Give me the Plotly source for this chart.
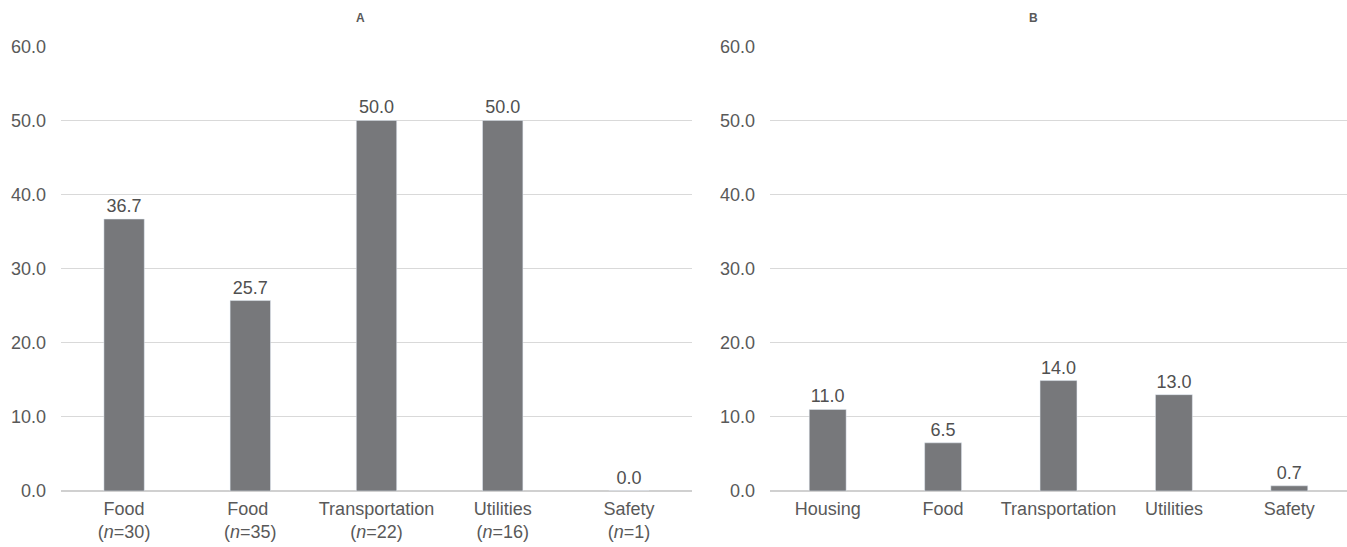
import plotly.graph_objects as go

# Panel A
cats_a = ["Food<br>(<i>n</i>=30)", "Food <br>(<i>n</i>=35)", "Transportation<br>(<i>n</i>=22)",
          "Utilities<br>(<i>n</i>=16)", "Safety<br>(<i>n</i>=1)"]
vals_a = [36.7, 25.7, 50.0, 50.0, 0.0]
labels_a = ["36.7", "25.7", "50.0", "50.0", "0.0"]

# Panel B
cats_b = ["Housing", "Food", "Transportation", "Utilities", "Safety"]
vals_b = [11.0, 6.5, 14.9, 13.0, 0.7]
labels_b = ["11.0", "6.5", "14.0", "13.0", "0.7"]

y_ticks = [0, 10, 20, 30, 40, 50, 60]

BAR = "#77787b"
TXT = "#595959"
FONT = "Liberation Sans"


def py(p):
    # paper y for a target pixel row (compensates observed render mapping)
    r = (p - 7.34) / 0.9708
    return 1 - r / 547


fig = go.Figure()
fig.add_trace(go.Bar(x=cats_a, y=vals_a, text=labels_a, textposition="outside",
                     marker=dict(color=BAR), cliponaxis=False,
                     textfont=dict(size=18, color="#505050", family=FONT),
                     xaxis="x", yaxis="y", showlegend=False))
fig.add_trace(go.Bar(x=cats_b, y=vals_b, text=labels_b, textposition="outside",
                     marker=dict(color=BAR), cliponaxis=False,
                     textfont=dict(size=18, color="#505050", family=FONT),
                     xaxis="x2", yaxis="y2", showlegend=False))

ydom = [py(492), py(44)]
yax = dict(range=[0, 60], tickvals=y_ticks, ticktext=[f"{v:.1f}" for v in y_ticks],
           showgrid=True, gridcolor="#d9d9d9", gridwidth=1,
           zeroline=True, zerolinecolor="#d0d0d0", zerolinewidth=2,
           showline=False, ticks="", ticklabelstandoff=14,
           tickfont=dict(size=18, color=TXT, family=FONT), domain=ydom)
xax = dict(showgrid=False, showline=False, ticks="", zeroline=False,
           ticklabelstandoff=5,
           tickfont=dict(size=18, color=TXT, family=FONT))

fig.update_layout(
    width=1347, height=547,
    margin=dict(l=0, r=0, t=0, b=0),
    paper_bgcolor="white", plot_bgcolor="white",
    bargap=0.68,
    xaxis=dict(**xax, domain=[61 / 1347, 692 / 1347], anchor="y"),
    yaxis=dict(**yax, anchor="x"),
    xaxis2=dict(**xax, domain=[770 / 1347, 1.0], anchor="y2"),
    yaxis2=dict(**yax, anchor="x2"),
    annotations=[
        dict(text="<b>A</b>", x=354 / 1347, y=py(15), xref="paper", yref="paper",
             yanchor="middle", showarrow=False, font=dict(size=12, color=TXT, family=FONT)),
        dict(text="<b>B</b>", x=1040 / 1347, y=py(15), xref="paper", yref="paper",
             yanchor="middle", showarrow=False, font=dict(size=12, color=TXT, family=FONT)),
    ],
)

fig.write_html("out.html")
